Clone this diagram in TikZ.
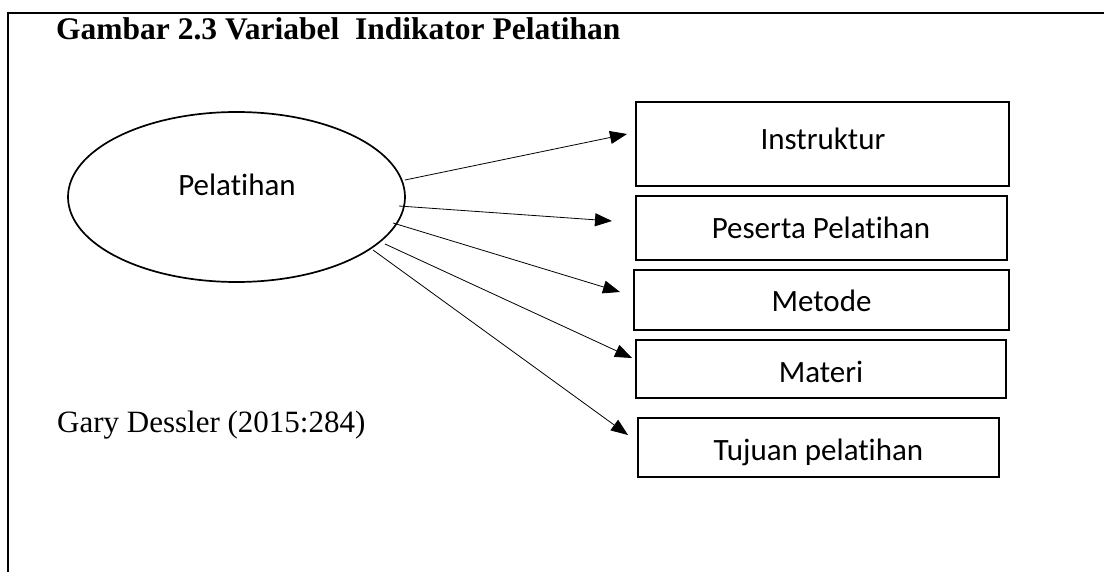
\documentclass[tikz,border=0pt]{standalone}
\usepackage{fontspec}
\setmainfont{Liberation Serif}
\newfontfamily\boxfont[Ligatures=NoCommon,Contextuals=NoAlternate,RawFeature={-liga;-calt;-dlig}]{Carlito}
\usetikzlibrary{shapes.geometric,arrows.meta}

\begin{document}
\begin{tikzpicture}[x=1pt,y=-1pt,
  frameline/.style={line width=1.5pt},
  itembox/.style={draw,line width=1.8pt,inner sep=0pt},
  itemtext/.style={font=\boxfont\fontsize{31}{37}\selectfont,inner sep=0pt,text height=20pt,text depth=0pt},
  construct/.style={draw,ellipse,line width=1.7pt,inner sep=0pt},
  link/.style={line width=0.8pt,-{Triangle[length=17pt,width=13pt]}},
]
\useasboundingbox (0,0) rectangle (1104,572);

% open frame: top and left sides only
\coordinate (fl) at (8,572);
\coordinate (fc) at (8,13);
\coordinate (fr) at (1104,13);
\draw[frameline] (fl) -- (fc) -- (fr);

% caption and source
\node[anchor=base west,inner sep=0pt,font=\fontsize{31.5}{37}\selectfont\bfseries] (title) at (56,40)
  {Gambar 2.3 Variabel\ \ Indikator Pelatihan};
\node[anchor=base west,inner sep=0pt,font=\fontsize{31}{37}\selectfont] (source) at (57,432)
  {Gary Dessler (2015:284)};

% latent variable
\node[construct,minimum width=337pt,minimum height=170pt] (pel) at (236.5,197) {};
\node[itemtext] (peltxt) at (237,186) {Pelatihan};

% indicator boxes
\node[itembox,minimum width=373pt,minimum height=84pt] (instr) at (822.5,144) {};
\node[itemtext] (instrtxt) at (823,140) {Instruktur};
\node[itembox,minimum width=371pt,minimum height=64pt] (pes) at (821.5,228) {};
\node[itemtext] (pestxt) at (821,229) {Peserta Pelatihan};
\node[itembox,minimum width=375pt,minimum height=60pt] (met) at (821.5,300) {};
\node[itemtext] (mettxt) at (821.5,302) {Metode};
\node[itembox,minimum width=370pt,minimum height=58pt] (mat) at (821,369) {};
\node[itemtext] (mattxt) at (821,372) {Materi};
\node[itembox,minimum width=361pt,minimum height=59pt] (tuj) at (818.5,447.5) {};
\node[itemtext] (tujtxt) at (818.5,450) {Tujuan pelatihan};

% arrow ends
\coordinate (s1) at (405,180);  \coordinate (t1) at (627,134);
\coordinate (s2) at (399,206);  \coordinate (t2) at (612,221);
\coordinate (s3) at (393,223);  \coordinate (t3) at (620,292);
\coordinate (s4) at (385,244);  \coordinate (t4) at (632,358);
\coordinate (s5) at (373,250);  \coordinate (t5) at (628,435);

\draw[link] (s1) -- (t1);
\draw[link] (s2) -- (t2);
\draw[link] (s3) -- (t3);
\draw[link] (s4) -- (t4);
\draw[link] (s5) -- (t5);
\end{tikzpicture}
\end{document}
